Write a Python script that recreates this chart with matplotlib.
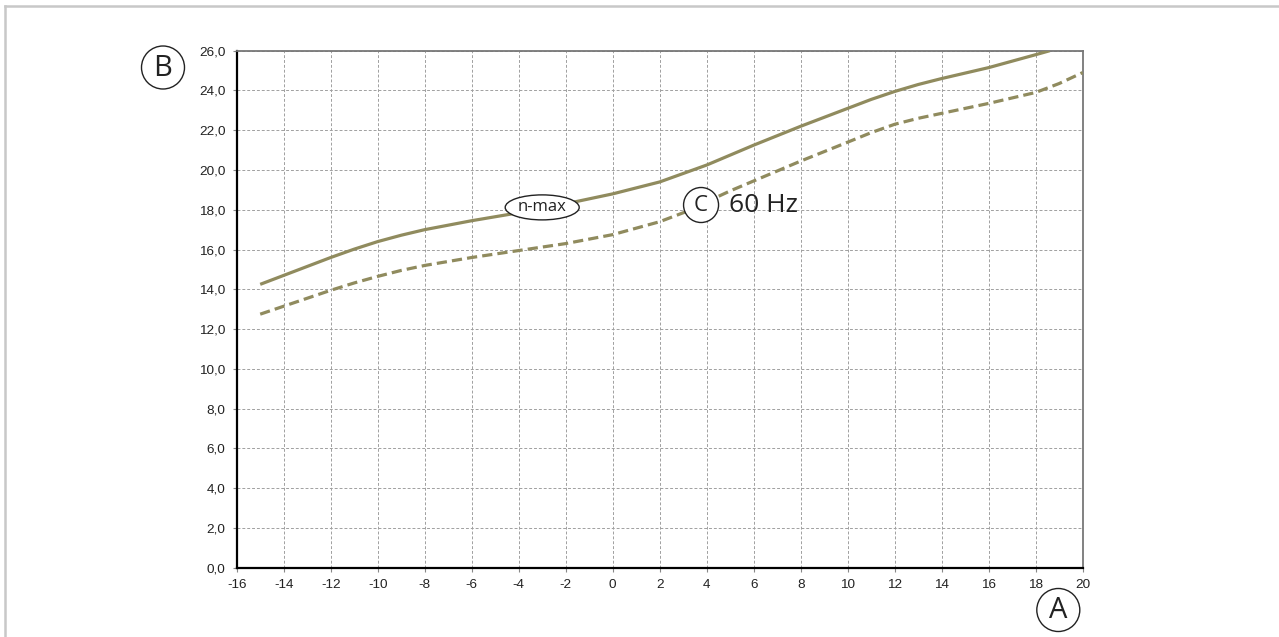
import matplotlib.pyplot as plt
from matplotlib.patches import Ellipse
from matplotlib.lines import Line2D
import numpy as np

# solid curve (n-max)
x_max = [-15, -14, -13, -12, -11, -10, -9, -8, -6, -4, -2, 0, 2, 4, 6, 8, 10, 11, 12, 13,
         14, 16, 18, 18.6]
y_max = [14.25, 14.7, 15.15, 15.6, 16.02, 16.4, 16.72, 17.0, 17.45, 17.85, 18.3, 18.8,
         19.4, 20.25, 21.25, 22.2, 23.1, 23.55, 23.95, 24.3, 24.6, 25.15, 25.8, 26.0]

# dashed curve (60 Hz)
x_60 = [-15, -12, -11, -10, -9, -8, -6, -4, -2, 0, 2, 3, 4, 5, 6, 8, 10, 11, 12, 13, 14,
        16, 18, 19, 20]
y_60 = [12.75, 13.95, 14.32, 14.65, 14.95, 15.2, 15.6, 15.95, 16.3, 16.75, 17.4, 17.85,
        18.4, 18.95, 19.45, 20.45, 21.4, 21.88, 22.3, 22.6, 22.85, 23.35, 23.9, 24.35, 24.9]

x_ticks = list(range(-16, 21, 2))
y_ticks = [0, 2, 4, 6, 8, 10, 12, 14, 16, 18, 20, 22, 24, 26]
y_labels = [f"{v:.1f}".replace('.', ',') for v in y_ticks]

olive = '#908b5e'
W, H = 1279, 637

fig = plt.figure(figsize=(W / 100, H / 100), dpi=100)
ax = fig.add_axes([236.7 / W, 1 - 567.7 / H, 846 / W, 517 / H])

ax.plot(x_max, y_max, color=olive, lw=2.3, solid_capstyle='butt', zorder=3)
ax.plot(x_60, y_60, color=olive, lw=2.3, linestyle=(0, (3.2, 1.6)), zorder=3)

ax.set_xlim(-16, 20)
ax.set_ylim(0, 26)
ax.set_xticks(x_ticks)
ax.set_xticklabels([str(v) for v in x_ticks])
ax.set_yticks(y_ticks)
ax.set_yticklabels(y_labels)
ax.grid(True, color='#a0a0a0', linestyle=(0, (3, 2)), linewidth=0.7)
ax.tick_params(length=3, width=0.8, color='#888888', labelsize=9.7, pad=5)
for lab in ax.get_xticklabels() + ax.get_yticklabels():
    lab.set_family('Liberation Sans')
    lab.set_color('#222222')

for s in ['left', 'bottom']:
    ax.spines[s].set_color('black')
    ax.spines[s].set_linewidth(1.6)
for s in ['top', 'right']:
    ax.spines[s].set_color('#777777')
    ax.spines[s].set_linewidth(1.3)

# labels inside the plot
px_x = 846 / 36.0
px_y = 517 / 26.0
ax.add_patch(Ellipse((-3.0, 18.12), 74 / px_x, 25 / px_y, facecolor='white',
                     edgecolor='#222222', lw=1.0, zorder=5))
ax.text(-3.0, 18.12, 'n-max', ha='center', va='center', fontsize=12,
        family='Open Sans', color='#222222', zorder=6)
ax.add_patch(Ellipse((3.76, 18.24), 35 / px_x, 35 / px_y, facecolor='white',
                     edgecolor='#222222', lw=1.0, zorder=5))
ax.text(3.76, 18.24, 'C', ha='center', va='center', fontsize=16,
        family='Open Sans', color='#222222', zorder=6)
ax.text(4.95, 18.24, '60 Hz', ha='left', va='center', fontsize=19,
        family='Open Sans', color='#222222', zorder=6)

# circled axis letters
tr = fig.dpi_scale_trans
for letter, cx, cy in [('B', 163, 67.5), ('A', 1058.3, 610)]:
    fig.patches.append(Ellipse((cx / 100, (H - cy) / 100), 0.43, 0.43, transform=tr,
                               facecolor='white', edgecolor='#222222', lw=1.0))
    fig.text(cx / W, 1 - (cy + 1) / H, letter, ha='center', va='center', fontsize=21,
             family='Open Sans', color='#222222')

# frame border at top and left
fig.add_artist(Line2D([5 / W, 1], [1 - 6 / H, 1 - 6 / H], color='#c8c8c8', lw=1.8,
                      transform=fig.transFigure))
fig.add_artist(Line2D([5 / W, 5 / W], [0, 1 - 6 / H], color='#c8c8c8', lw=1.8,
                      transform=fig.transFigure))

fig.savefig('out.png', dpi=100)
